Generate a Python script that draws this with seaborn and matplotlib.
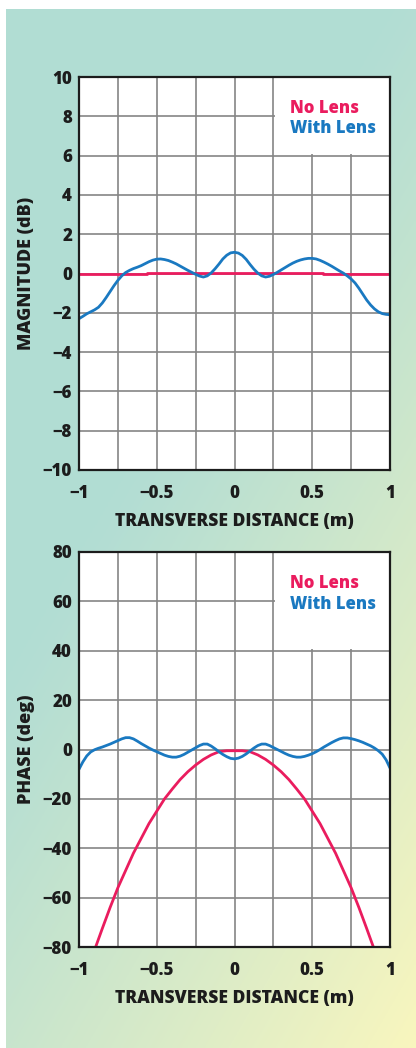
import numpy as np
import pandas as pd
import matplotlib
matplotlib.use("Agg")
import matplotlib.pyplot as plt
from matplotlib.patches import Rectangle
import seaborn as sns

# ---- data -------------------------------------------------------------
# sample positions of the "With Lens" traces, every 0.025 m from -1 to 1
x_pos = np.linspace(-1.0, 1.0, 81)

mag_with_lens = [
    -2.30, -2.18, -2.05, -1.95, -1.85, -1.72, -1.50, -1.22, -0.92, -0.62,
    -0.35, -0.12, 0.05, 0.16, 0.25, 0.32, 0.40, 0.50, 0.60, 0.68,
    0.73, 0.74, 0.71, 0.66, 0.58, 0.49, 0.38, 0.27, 0.16, 0.06,
    -0.04, -0.13, -0.18, -0.12, 0.03, 0.24, 0.48, 0.74, 0.93, 1.05,
    1.08, 1.04, 0.92, 0.72, 0.46, 0.22, 0.02, -0.12, -0.18, -0.14,
    -0.05, 0.06, 0.18, 0.30, 0.42, 0.53, 0.62, 0.69, 0.74, 0.77,
    0.77, 0.74, 0.67, 0.58, 0.48, 0.37, 0.25, 0.13, 0.02, -0.12,
    -0.28, -0.48, -0.75, -1.05, -1.35, -1.60, -1.80, -1.95, -2.04, -2.08,
    -2.10]

mag_no_lens_x = [-1.00, -0.565, -0.565, 0.571, 0.571, 1.00]
mag_no_lens = [-0.03, -0.03, 0.05, 0.05, -0.03, -0.03]

phase_with_lens = [
    -8.0, -5.0, -2.6, -1.0, -0.1, 0.5, 1.0, 1.6, 2.2, 2.9,
    3.6, 4.3, 4.8, 4.8, 4.3, 3.4, 2.4, 1.5, 0.6, -0.2,
    -0.9, -1.6, -2.3, -2.8, -3.1, -3.1, -2.7, -2.0, -1.1, -0.2,
    0.7, 1.6, 2.2, 2.2, 1.4, 0.3, -0.9, -2.0, -2.9, -3.6,
    -3.8, -3.5, -2.8, -1.8, -0.6, 0.6, 1.6, 2.2, 2.2, 1.6,
    0.8, 0.0, -0.8, -1.6, -2.3, -2.8, -3.1, -3.1, -2.8, -2.3,
    -1.7, -0.9, 0.0, 1.0, 1.9, 2.8, 3.6, 4.3, 4.7, 4.7,
    4.4, 4.0, 3.5, 2.9, 2.2, 1.5, 0.6, -0.5, -1.9, -4.2,
    -7.5]

phase_no_lens_x = [-0.893, -0.85, -0.80, -0.75, -0.70, -0.65, -0.60, -0.55, -0.50,
                   -0.45, -0.40, -0.35, -0.30, -0.25, -0.20, -0.15, -0.10, -0.05,
                   0.00, 0.05, 0.10, 0.15, 0.20, 0.25, 0.30, 0.35, 0.40, 0.45,
                   0.50, 0.55, 0.60, 0.65, 0.70, 0.75, 0.80, 0.85, 0.893]
phase_no_lens = [-80.0, -72.5, -64.0, -56.0, -49.0, -42.0, -36.0, -30.0, -25.0,
                 -20.0, -16.0, -12.2, -9.0, -6.3, -4.0, -2.2, -0.9, -0.5,
                 -0.5, -0.5, -0.9, -2.2, -4.0, -6.3, -9.0, -12.2, -16.0, -20.0,
                 -25.0, -30.0, -36.0, -42.0, -49.0, -56.0, -64.0, -72.5, -80.0]

x_tick_vals = [-1, -0.5, 0, 0.5, 1]
x_tick_text = ["\u22121", "\u22120.5", "0", "0.5", "1"]
x_minor_vals = [-0.75, -0.25, 0.25, 0.75]
mag_ticks = list(range(-10, 11, 2))
phase_ticks = list(range(-80, 81, 20))

series_names = ["No Lens", "With Lens"]
series_colors = {"No Lens": "#ea1c5e", "With Lens": "#1a79c1"}

# ---- style ------------------------------------------------------------
sns.set_style("white")
plt.rcParams["font.family"] = ["Open Sans", "DejaVu Sans"]
plt.rcParams["axes.unicode_minus"] = True
WEIGHT = 800
INK = "#1c1c1c"

fig = plt.figure(figsize=(4.16, 10.48), dpi=100)
fig.patch.set_facecolor("white")

# gradient backdrop (teal top-left fading to pale yellow bottom-right)
bg = fig.add_axes([6 / 416, 0, 410 / 416, 1 - 9 / 1048], zorder=-10)
h, w = 400, 160
u = np.linspace(0, 1, w)[None, :]
v = np.linspace(0, 1, h)[:, None]
t = np.clip((0.42 * u + 0.62 * v - 0.40) / 0.64, 0, 1) ** 1.1
teal = np.array([0.698, 0.867, 0.831])
yellow = np.array([0.976, 0.965, 0.745])
img = teal[None, None, :] * (1 - t[..., None]) + yellow[None, None, :] * t[..., None]
bg.imshow(img, aspect="auto", extent=[0, 1, 0, 1], origin="upper")
bg.set_axis_off()


def style_axes(ax, yticks, ylabel, box_y0, ylim):
    ax.set_axisbelow(True)
    ax.set_xlim(-1, 1)
    ax.set_ylim(*ylim)
    ax.set_xticks(x_tick_vals)
    ax.set_xticklabels(x_tick_text)
    ax.set_xticks(x_minor_vals, minor=True)
    ax.set_yticks(yticks)
    ax.set_yticklabels([str(v).replace("-", "\u2212") for v in yticks])
    ax.grid(True, which="both", color="#858585", linewidth=1.2)
    ax.tick_params(axis="both", which="both", length=0, labelsize=12.2,
                   colors=INK)
    ax.tick_params(axis="x", pad=11)
    ax.tick_params(axis="y", pad=5)
    for lab in ax.get_xticklabels() + ax.get_yticklabels():
        lab.set_fontweight(WEIGHT)
    for sp in ax.spines.values():
        sp.set_visible(True)
        sp.set_color(INK)
        sp.set_linewidth(1.6)
    ax.set_facecolor("white")
    ax.set_xlabel("TRANSVERSE DISTANCE (m)", fontsize=12.6, fontweight=WEIGHT,
                  color=INK, labelpad=8)
    ax.set_ylabel(ylabel, fontsize=13, fontweight=WEIGHT, color=INK)
    # blank legend panel in the upper right
    ax.add_patch(Rectangle((0.26, box_y0), 0.74, ylim[1] - box_y0,
                           facecolor="white", edgecolor="none", zorder=1))
    span = ylim[1] - ylim[0]
    ax.text(0.36, ylim[1] - span * 0.081, "No Lens",
            color=series_colors["No Lens"], fontsize=12, fontweight=WEIGHT,
            ha="left", va="center", zorder=3)
    ax.text(0.36, ylim[1] - span * 0.132, "With Lens",
            color=series_colors["With Lens"], fontsize=12, fontweight=WEIGHT,
            ha="left", va="center", zorder=3)


# ---- magnitude panel --------------------------------------------------
ax1 = fig.add_axes([79 / 416, 1 - 470 / 1048, 311 / 416, 393 / 1048])
mag_df = pd.concat([
    pd.DataFrame({"x": mag_no_lens_x, "y": mag_no_lens, "series": "No Lens"}),
    pd.DataFrame({"x": x_pos, "y": mag_with_lens, "series": "With Lens"}),
])
for name in series_names:
    sub = mag_df[mag_df["series"] == name]
    sns.lineplot(data=sub, x="x", y="y", ax=ax1, color=series_colors[name],
                 linewidth=2.0, sort=False, estimator=None, zorder=2,
                 legend=False)
style_axes(ax1, mag_ticks, "MAGNITUDE (dB)", 6.08, (-10, 10))

# ---- phase panel ------------------------------------------------------
ax2 = fig.add_axes([79 / 416, 1 - 947 / 1048, 311 / 416, 395 / 1048])
phase_df = pd.concat([
    pd.DataFrame({"x": phase_no_lens_x, "y": phase_no_lens, "series": "No Lens"}),
    pd.DataFrame({"x": x_pos, "y": phase_with_lens, "series": "With Lens"}),
])
for name in series_names:
    sub = phase_df[phase_df["series"] == name]
    sns.lineplot(data=sub, x="x", y="y", ax=ax2, color=series_colors[name],
                 linewidth=2.0, sort=False, estimator=None, zorder=2,
                 legend=False)
style_axes(ax2, phase_ticks, "PHASE (deg)", 40.8, (-80, 80))

# keep the y-axis titles in a common column near the left edge
for ax in (ax1, ax2):
    ax.yaxis.set_label_coords(-(79 - 35) / 311, 0.5)

fig.savefig("out.png", dpi=100)
